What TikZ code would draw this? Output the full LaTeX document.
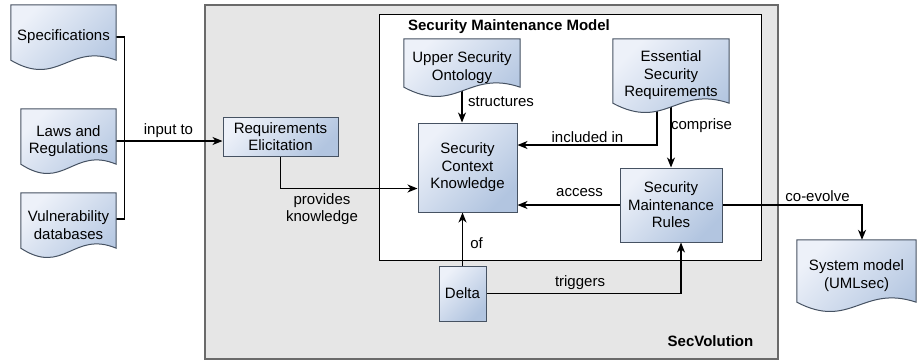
\documentclass[tikz,border=0pt]{standalone}
\usepackage{fontspec}
\setmainfont{Liberation Sans}
\usetikzlibrary{arrows.meta,calc}
\pgfdeclarelayer{back}
\pgfdeclarelayer{edges}
\pgfdeclarelayer{docs}
\pgfsetlayers{back,edges,docs,main}
\definecolor{fillA}{HTML}{EDF1F9}
\definecolor{fillB}{HTML}{B2C5E0}
\definecolor{bord}{HTML}{465262}
\definecolor{grayfill}{HTML}{E6E6E6}
\definecolor{grayline}{HTML}{6A6A6A}
\tikzset{
  txt/.style={font=\fontsize{15}{17.5}\selectfont, align=center, inner sep=0pt},
  box/.style={txt, draw=bord, line width=1pt, top color=fillA, bottom color=fillB, shading angle=45},
  docnode/.style={txt},
  docshape/.style={draw=bord, line width=1pt, top color=fillA, bottom color=fillB, shading angle=45},
  conn/.style={line width=1.2pt, -{Stealth[length=10pt,width=8pt,inset=3pt]}},
  plain/.style={line width=1.2pt},
  lbl/.style={font=\fontsize{15}{17.5}\selectfont, inner sep=0pt, align=center},
  ttl/.style={font=\bfseries\fontsize{15}{17.5}\selectfont, inner sep=0pt},
}
\newcommand\docpath[1]{%
  \begin{pgfonlayer}{docs}
  \path[docshape] let \p1=(#1.north west), \p2=(#1.south east), \n1={\x2-\x1} in
    (\x1,\y1) -- (\x2,\y1) -- (\x2,\y2+9pt)
    .. controls (\x1+0.55*\n1,\y2+27pt) and (\x1+0.45*\n1,\y2-19pt) .. (\x1,\y2+9pt) -- cycle;
  \end{pgfonlayer}}
\begin{document}
\begin{tikzpicture}[x=1pt,y=-1pt]
\useasboundingbox (0,0) rectangle (917,360);
% containers
\begin{pgfonlayer}{back}
  \path[draw=grayline, fill=grayfill, line width=1.5pt] (205,5) rectangle (778,359);
  \path[draw=black, fill=white, line width=1pt] (379,14) rectangle (761,260);
\end{pgfonlayer}
\node[ttl] (smmtitle) at (509,27) {Security Maintenance Model};
\node[ttl] (secvol) at (710.5,341) {SecVolution};
% documents
\node[docnode, minimum width=105pt, minimum height=64pt] (spec) at (63.5,37) {Specifications};
\node[docnode, minimum width=95pt, minimum height=64pt] (laws) at (68.5,141) {Laws and\\Regulations};
\node[docnode, minimum width=95pt, minimum height=64pt] (vul) at (68.5,225) {Vulnerability\\databases};
\node[docnode, minimum width=116pt, minimum height=57pt] (uo) at (462,67.5) {Upper Security\\Ontology};
\node[docnode, minimum width=116pt, minimum height=73pt] (esr) at (671,75.5) {Essential\\Security\\Requirements};
\node[docnode, minimum width=119pt, minimum height=71pt] (sys) at (856.5,275.5) {System model\\(UMLsec)};
\docpath{spec}\docpath{laws}\docpath{vul}\docpath{uo}\docpath{esr}\docpath{sys}
% boxes
\node[box, minimum width=115pt, minimum height=39pt] (re) at (280.5,136.5) {Requirements\\Elicitation};
\node[box, minimum width=99pt, minimum height=89pt] (sck) at (467.5,167.5) {Security\\Context\\Knowledge};
\node[box, minimum width=102pt, minimum height=74pt] (smr) at (671,205) {Security\\Maintenance\\Rules};
\node[box, minimum width=47pt, minimum height=55pt] (delta) at (462.5,293.5) {Delta};
% helper coordinates
\coordinate (vj) at ($(vul.east)+(0,-6)$);
\coordinate (pk) at ($(sck.west)+(0,21)$);
\coordinate (uos) at ($(uo.south)+(0,-8)$);
\coordinate (ia) at ($(esr.south)+(-14,-6)$);
\coordinate (ib) at ($(sck.east)+(0,-22.5)$);
\coordinate (esrs) at ($(esr.south)+(0,-8)$);
\coordinate (tr) at ($(smr.south)+(10,0)$);
\coordinate (ce) at ($(sys.north)+(5.5,0)$);
% connectors
\begin{pgfonlayer}{edges}
  \draw[plain] (spec.east) -- ++(8.5,0) |- (vj);
  \draw[conn] (laws.east) -- (laws.east -| re.west);
  \draw[conn] (re.south) |- (pk);
  \draw[conn] (uos) -- (uos |- sck.north);
  \draw[conn] (ia) |- (ib);
  \draw[conn] (esrs) -- (smr.north);
  \draw[conn] (smr.west) -- (smr.west -| sck.east);
  \draw[conn] (delta.north) -- (delta.north |- sck.south);
  \draw[conn] (delta.east) -| (tr);
  \draw[conn] (smr.east) -| (ce);
\end{pgfonlayer}
% labels
\node[lbl] (l1) at (168.5,131) {input to};
\node[lbl] (l2) at (501,102) {structures};
\node[lbl] (l3) at (587.5,137) {included in};
\node[lbl] (l4) at (701.5,126) {comprise};
\node[lbl] (l5) at (579.5,193) {access};
\node[lbl] (l6) at (322,209) {provides\\knowledge};
\node[lbl] (l7) at (476.5,243) {of};
\node[lbl] (l8) at (580,283) {triggers};
\node[lbl] (l9) at (817.5,196) {co-evolve};
\end{tikzpicture}
\end{document}
